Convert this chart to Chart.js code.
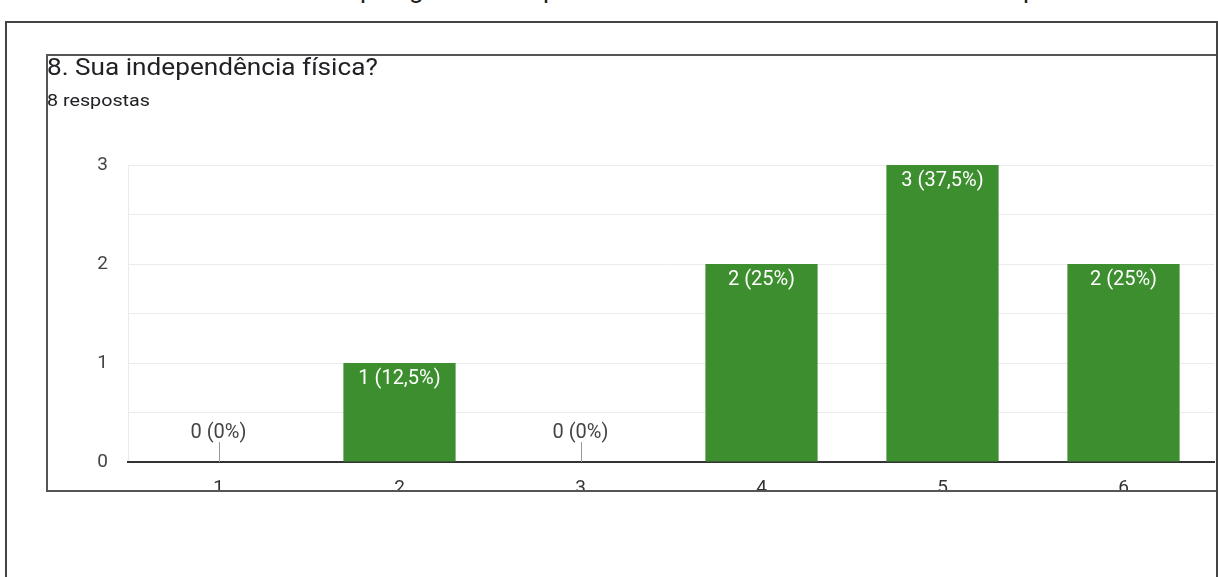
<!DOCTYPE html>
<html lang="pt">
<head>
<meta charset="utf-8">
<title>8. Sua independência física?</title>
<script src="https://cdn.jsdelivr.net/npm/chart.js@4.4.1/dist/chart.umd.min.js"></script>
<style>
    html, body { margin: 0; padding: 0; background: #fff; overflow: hidden; }
    body { width: 1218px; height: 577px; position: relative; font-family: Roboto, Arial, sans-serif; }
    .frame {
        position: absolute; left: 5px; top: 21px; width: 1209px; height: 600px;
        border: 2px solid #444; border-bottom: none; z-index: 3; pointer-events: none;
    }
    .card {
        position: absolute; left: 46px; top: 54px; width: 1170px; height: 434px;
        border: 2px solid #555; border-right: none; overflow: hidden; z-index: 1;
    }
    .card canvas { position: absolute; left: -48px; top: -56px; }
    .titre {
        position: absolute; left: 47px; top: 53px; font-size: 24px; color: #202124; z-index: 2;
        white-space: nowrap; transform: scaleX(1.09); transform-origin: left top;
    }
    .sous-titre {
        position: absolute; left: 47px; top: 90px; font-size: 17px; color: #202124; z-index: 2;
        white-space: nowrap; transform: scaleX(1.16); transform-origin: left top;
    }
    .coupe { position: absolute; top: -24px; font-size: 26px; line-height: 26px; color: #222; }
</style>
</head>
<body>
<!-- bas d'une ligne de texte coupée en haut de la capture -->
<span class="coupe" style="left:360px">p</span>
<span class="coupe" style="left:409px">g</span>
<span class="coupe" style="left:543px">p</span>
<span class="coupe" style="left:1023px">p</span>

<div class="frame"></div>
<div class="titre">8. Sua independência física?</div>
<div class="sous-titre">8 respostas</div>
<div class="card"><canvas id="graphe" width="1218" height="577"></canvas></div>

<script>
const categories = ['1', '2', '3', '4', '5', '6'];
const reponses = [0, 1, 0, 2, 3, 2];
const graduationsY = [0, 1, 2, 3];
const total = 8;

const police = 'Roboto, Arial, sans-serif';
const vert = '#3d8e2f';

const pourcent = (v) => String(Math.round(v / total * 1000) / 10).replace('.', ',');

// étiquettes "n (x%)" dans / au-dessus des barres
const etiquettes = {
    id: 'etiquettes',
    afterDatasetsDraw(chart) {
        const ctx = chart.ctx;
        const meta = chart.getDatasetMeta(0);
        ctx.save();
        ctx.font = '20px ' + police;
        ctx.textAlign = 'center';
        ctx.textBaseline = 'middle';
        meta.data.forEach((barre, i) => {
            const v = reponses[i];
            const texte = `${v} (${pourcent(v)}%)`;
            if (v > 0) {
                ctx.fillStyle = '#ffffff';
                ctx.fillText(texte, barre.x, barre.y + 16);
            } else {
                ctx.fillStyle = '#444';
                ctx.fillText(texte, barre.x, barre.y - 29);
                ctx.strokeStyle = '#999';
                ctx.lineWidth = 1;
                ctx.beginPath();
                ctx.moveTo(Math.round(barre.x) + 0.5, barre.y - 20);
                ctx.lineTo(Math.round(barre.x) + 0.5, barre.y);
                ctx.stroke();
            }
        });
        ctx.restore();
    },
};

new Chart(document.getElementById('graphe'), {
    type: 'bar',
    data: {
        labels: categories,
        datasets: [{
            data: reponses,
            backgroundColor: vert,
            borderWidth: 0,
            categoryPercentage: 0.62,
            barPercentage: 1,
        }],
    },
    options: {
        responsive: false,
        animation: false,
        layout: { padding: { top: 165, right: 4, left: 0, bottom: 0 } },
        scales: {
            y: {
                min: 0,
                max: 3,
                afterFit: (s) => { s.width = 128; },
                ticks: {
                    stepSize: 0.5,
                    padding: 20,
                    color: '#444',
                    font: { family: police, size: 19 },
                    callback: (v) => (graduationsY.includes(v) ? String(v) : ''),
                },
                grid: {
                    drawTicks: false,
                    color: (c) => (c.tick && c.tick.value === 0 ? 'rgba(0,0,0,0)' : '#ebebeb'),
                },
                border: { color: '#ebebeb', width: 1 },
            },
            x: {
                afterFit: (s) => { s.height = 115; },
                grid: { display: false, drawTicks: false },
                border: { color: '#333', width: 2 },
                ticks: {
                    padding: 15,
                    color: '#333',
                    font: { family: police, size: 19 },
                },
            },
        },
        plugins: {
            legend: { display: false },
            tooltip: { enabled: false },
        },
    },
    plugins: [etiquettes],
});
</script>
</body>
</html>
